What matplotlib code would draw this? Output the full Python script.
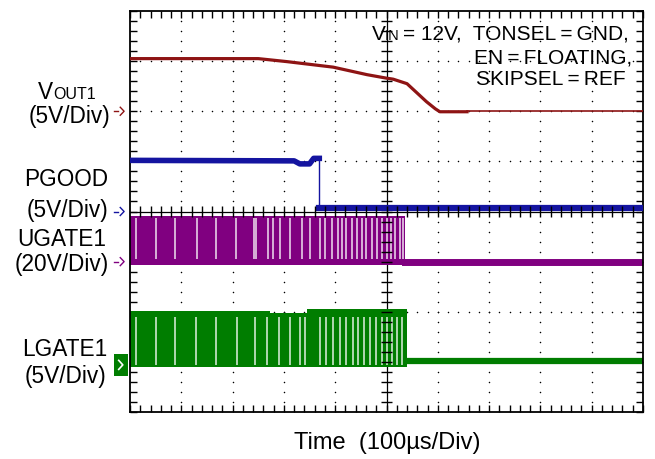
import matplotlib
matplotlib.use("Agg")
import matplotlib.pyplot as plt
import numpy as np

plt.rcParams['font.family'] = ['Liberation Sans', 'DejaVu Sans']

# --- traces, in scope divisions (x: 0..10, y: 0..8 from bottom) ---
vout_x = [0, 2.5, 3.06, 3.96, 4.62, 5.0, 5.13, 5.4, 5.59, 5.78, 5.95, 6.04, 6.57]
vout_y = [7.05, 7.05, 6.99, 6.88, 6.73, 6.66, 6.64, 6.55, 6.37, 6.19, 6.05, 5.99, 5.99]
vout_end = 6.0

pgood_x = [0, 3.2, 3.31, 3.5, 3.58, 3.69]
pgood_y = [5.02, 5.01, 4.95, 4.95, 5.06, 5.06]
pgood_low = 4.07

ugate_hi, ugate_lo, ugate_end, ugate_after = 3.92, 2.93, 5.37, 2.99
ugate_gaps = [0.12, 0.50, 0.87, 1.31, 1.68, 2.07, 2.42, 2.45, 2.69, 2.79, 2.92,
              3.12, 3.35, 3.51, 3.70, 3.80, 3.93, 4.06, 4.13, 4.22, 4.32, 4.42,
              4.52, 4.61, 4.71, 4.81, 4.91, 5.00, 5.08, 5.17, 5.26, 5.33]

lgate_x = [0, 2.73, 2.73, 3.45, 3.45, 5.39]
lgate_hi = [2.02, 2.02, 1.97, 1.97, 2.06, 2.06]
lgate_lo, lgate_after = 0.89, 1.01
lgate_gaps = [0.11, 0.50, 0.87, 1.29, 1.67, 2.09, 2.43, 2.68, 2.91, 3.12, 3.31,
              3.42, 3.70, 3.83, 3.96, 4.09, 4.22, 4.34, 4.45, 4.57, 4.68, 4.80,
              4.91, 5.00, 5.10, 5.20, 5.30]

red, blue, purple, green = '#8e1414', '#1414a0', '#800080', '#007d00'

W, H = 655, 460
fig = plt.figure(figsize=(W / 100, H / 100), dpi=100)
ax = fig.add_axes([130 / W, 47 / H, 513 / W, 401 / H])
ax.set_xlim(0, 10)
ax.set_ylim(0, 8)

# scope graticule
ax.set_xticks(np.arange(0, 10.01, 0.2))
ax.set_yticks(np.arange(0, 8.01, 0.2))
ax.tick_params(direction='in', length=5, width=1, top=True, right=True,
               labelbottom=False, labelleft=False)
for s in ax.spines.values():
    s.set_linewidth(1.3)
for gx in [1, 2, 3, 4, 6, 7, 8, 9]:
    yy = np.arange(0.2, 8, 0.2)
    ax.scatter(np.full_like(yy, gx), yy, s=1.2, color='black', lw=0, zorder=1)
for gy in [1, 2, 3, 5, 6, 7]:
    xx = np.arange(0.2, 10, 0.2)
    ax.scatter(xx, np.full_like(xx, gy), s=1.2, color='black', lw=0, zorder=1)
ax.axvline(5, color='black', lw=0.9, zorder=1)
ax.axhline(4, color='black', lw=0.9, zorder=1)
ax.hlines(np.arange(0.2, 8, 0.2), 4.9, 5.1, color='black', lw=1, zorder=6)
ax.vlines(np.arange(0.2, 10, 0.2), 3.9, 4.1, color='black', lw=1, zorder=6)

# VOUT1
ax.plot(vout_x, vout_y, color=red, lw=2.3, zorder=3)
ax.plot([vout_x[-1], 10], [vout_end, vout_end], color=red, lw=1.2, zorder=3)

# PGOOD
ax.plot(pgood_x, pgood_y, color=blue, lw=4, zorder=3)
ax.plot([pgood_x[-1], pgood_x[-1]], [pgood_y[-1], pgood_low], color=blue, lw=1, zorder=3)
ax.plot([pgood_x[-1], 10], [pgood_low, pgood_low], color=blue, lw=4.5, zorder=3)

# UGATE1
ax.fill_between([0, ugate_end], ugate_lo, ugate_hi, color=purple, lw=0, zorder=2)
ax.vlines(ugate_gaps, ugate_lo + 0.12, ugate_hi - 0.04, color='white', lw=1.3, alpha=0.75, zorder=2.5)
ax.plot([ugate_end, 10], [ugate_after, ugate_after], color=purple, lw=5, zorder=2)

# LGATE1
ax.fill_between(lgate_x, lgate_lo, lgate_hi, color=green, lw=0, zorder=2)
ax.vlines(lgate_gaps, lgate_lo + 0.05, 1.9, color='white', lw=1.3, alpha=0.75, zorder=2.5)
ax.plot([lgate_x[-1], 10], [lgate_after, lgate_after], color=green, lw=4.5, zorder=2)

# channel ground markers
for lvl, c in [(6.0, red), (4.0, blue), (3.0, purple)]:
    ax.plot([-0.305, -0.23], [lvl, lvl], color=c, lw=1, clip_on=False)
    ax.plot([-0.19, -0.115, -0.19], [lvl + 0.08, lvl, lvl - 0.08], color=c, lw=1, clip_on=False)
ax.fill_between([-0.31, -0.03], 0.72, 1.16, color=green, lw=0, clip_on=False)
ax.plot([-0.22, -0.14, -0.22], [1.03, 0.94, 0.85], color='white', lw=1.2, clip_on=False)


def fx(x):
    return x / W


def fy(y):
    return 1 - y / H


fs = 16.3
# channel labels
fig.text(fx(38), fy(99), 'V', fontsize=fs, va='baseline')
fig.text(fx(53), fy(99), 'OUT1', fontsize=11.5, va='baseline')
fig.text(fx(69), fy(117), '(5V/Div)', fontsize=fs, ha='center', va='center')
fig.text(fx(66), fy(180), 'PGOOD', fontsize=fs, ha='center', va='center')
fig.text(fx(67), fy(211), '(5V/Div)', fontsize=fs, ha='center', va='center')
fig.text(fx(62), fy(240), 'UGATE1', fontsize=fs, ha='center', va='center')
fig.text(fx(62), fy(264), '(20V/Div)', fontsize=fs, ha='center', va='center')
fig.text(fx(65), fy(350), 'LGATE1', fontsize=fs, ha='center', va='center')
fig.text(fx(66), fy(376), '(5V/Div)', fontsize=fs, ha='center', va='center')

# conditions
cs = 15
ts = '\u2009'
fig.text(fx(372), fy(40), 'V', fontsize=cs, va='baseline')
fig.text(fx(385), fy(40), 'IN', fontsize=10.5, va='baseline')
fig.text(fx(403), fy(40), f'= 12V,  TONSEL{ts}={ts}GND,', fontsize=cs, va='baseline')
fig.text(fx(632), fy(63), f'EN{ts}={ts}FLOATING,', fontsize=cs, va='baseline', ha='right')
fig.text(fx(626), fy(85), f'SKIPSEL{ts}={ts}REF', fontsize=cs, va='baseline', ha='right')

fig.text(fx(387), fy(443), 'Time  (100\u00b5s/Div)', fontsize=17, ha='center', va='center')

fig.savefig('out.png', dpi=100)
